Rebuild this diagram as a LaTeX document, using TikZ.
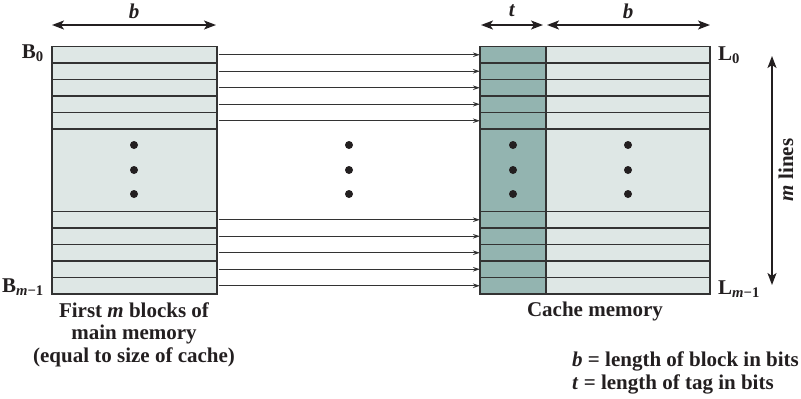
\documentclass[tikz,border=0pt]{standalone}
\usepackage{fontspec}
\setmainfont{Liberation Serif}
\usetikzlibrary{arrows.meta}
\definecolor{lightc}{HTML}{DEE7E5}
\definecolor{darkc}{HTML}{93B4B0}
\definecolor{linec}{HTML}{333333}
\definecolor{inkc}{HTML}{231F20}
\tikzset{
  rowbox/.style={draw=linec, line width=1.1pt, inner sep=0pt, outer sep=0pt, minimum height=16.5pt},
  leftrow/.style={rowbox, fill=lightc, minimum width=165pt},
  tagrow/.style={rowbox, fill=darkc, minimum width=66pt},
  datarow/.style={rowbox, fill=lightc, minimum width=164pt},
  maparrow/.style={draw=linec, line width=0.9pt, -{Stealth[length=7pt,width=4.5pt]}},
  dimarrow/.style={draw=inkc, line width=1.8pt, {Stealth[length=12pt,width=9pt,inset=3pt]}-{Stealth[length=12pt,width=9pt,inset=3pt]}},
  lbl/.style={font=\fontsize{21}{24}\selectfont\bfseries, text=inkc, inner sep=0pt},
  dotc/.style={circle, fill=inkc, inner sep=0pt, minimum size=8pt}
}
\begin{document}
\begin{tikzpicture}[x=1pt,y=-1pt]
\useasboundingbox (0,0) rectangle (801,399);
\clip (0,0) rectangle (801,399);
% middle (elided) regions
\node[leftrow, minimum height=82.5pt] (lmid) at (134.5,170.25) {};
\node[tagrow, minimum height=82.5pt] (tmid) at (513,170.25) {};
\node[datarow, minimum height=82.5pt] (dmid) at (628,170.25) {};
% rows
\foreach \i in {1,...,5} {
  \pgfmathsetmacro{\yt}{46.5+16.5*(\i-0.5)}
  \pgfmathsetmacro{\yb}{211.5+16.5*(\i-0.5)}
  \node[leftrow] (lt\i) at (134.5,\yt) {};
  \node[leftrow] (lb\i) at (134.5,\yb) {};
  \node[tagrow] (tt\i) at (513,\yt) {};
  \node[tagrow] (tb\i) at (513,\yb) {};
  \node[datarow] (dt\i) at (628,\yt) {};
  \node[datarow] (db\i) at (628,\yb) {};
}
\foreach \i in {1,...,5} {
  \draw[maparrow] ([xshift=1.5pt]lt\i.east) -- (tt\i.west);
  \draw[maparrow] ([xshift=1.5pt]lb\i.east) -- (tb\i.west);
}
% dots
\foreach \y [count=\k] in {145,170,194} {
  \node[dotc] (dl\k) at (134,\y) {};
  \node[dotc] (dm\k) at (349,\y) {};
  \node[dotc] (dtg\k) at (513,\y) {};
  \node[dotc] (dd\k) at (628,\y) {};
}
% dimension arrows
\coordinate (b1l) at (52,25); \coordinate (b1r) at (216,25);
\coordinate (tl) at (481,25); \coordinate (tr) at (543,25);
\coordinate (b2l) at (547,25); \coordinate (b2r) at (710,25);
\coordinate (mt) at (772,56); \coordinate (mb) at (772,285);
\draw[dimarrow] (b1l) -- (b1r);
\draw[dimarrow] (tl) -- (tr);
\draw[dimarrow] (b2l) -- (b2r);
\draw[dimarrow] (mt) -- (mb);
\node[lbl] (bl1) at (134,11) {\textit{b}};
\node[lbl] (tl1) at (512,11) {\textit{t}};
\node[lbl] (bl2) at (628,11) {\textit{b}};
\node[lbl, rotate=90] (mlines) at (786,170) {\textit{m} lines};
% side labels
\node[lbl, anchor=east] (B0) at (44,53) {B\textsubscript{0}};
\node[lbl, anchor=east] (Bm) at (44,287) {B\textsubscript{\textit{m}−1}};
\node[lbl, anchor=west] (L0) at (718,55) {L\textsubscript{0}};
\node[lbl, anchor=west] (Lm) at (718,289) {L\textsubscript{\textit{m}−1}};
% captions
\node[lbl] (cap1) at (134,310) {First \textit{m} blocks of};
\node[lbl] (cap2) at (134,334) {main memory};
\node[lbl] (cap3) at (134,357) {(equal to size of cache)};
\node[lbl] (cap4) at (595,311) {Cache memory};
\node[lbl, anchor=west] (leg1) at (572,361) {\textit{b} = length of block in bits};
\node[lbl, anchor=west] (leg2) at (572,384) {\textit{t} = length of tag in bits};
\end{tikzpicture}
\end{document}
